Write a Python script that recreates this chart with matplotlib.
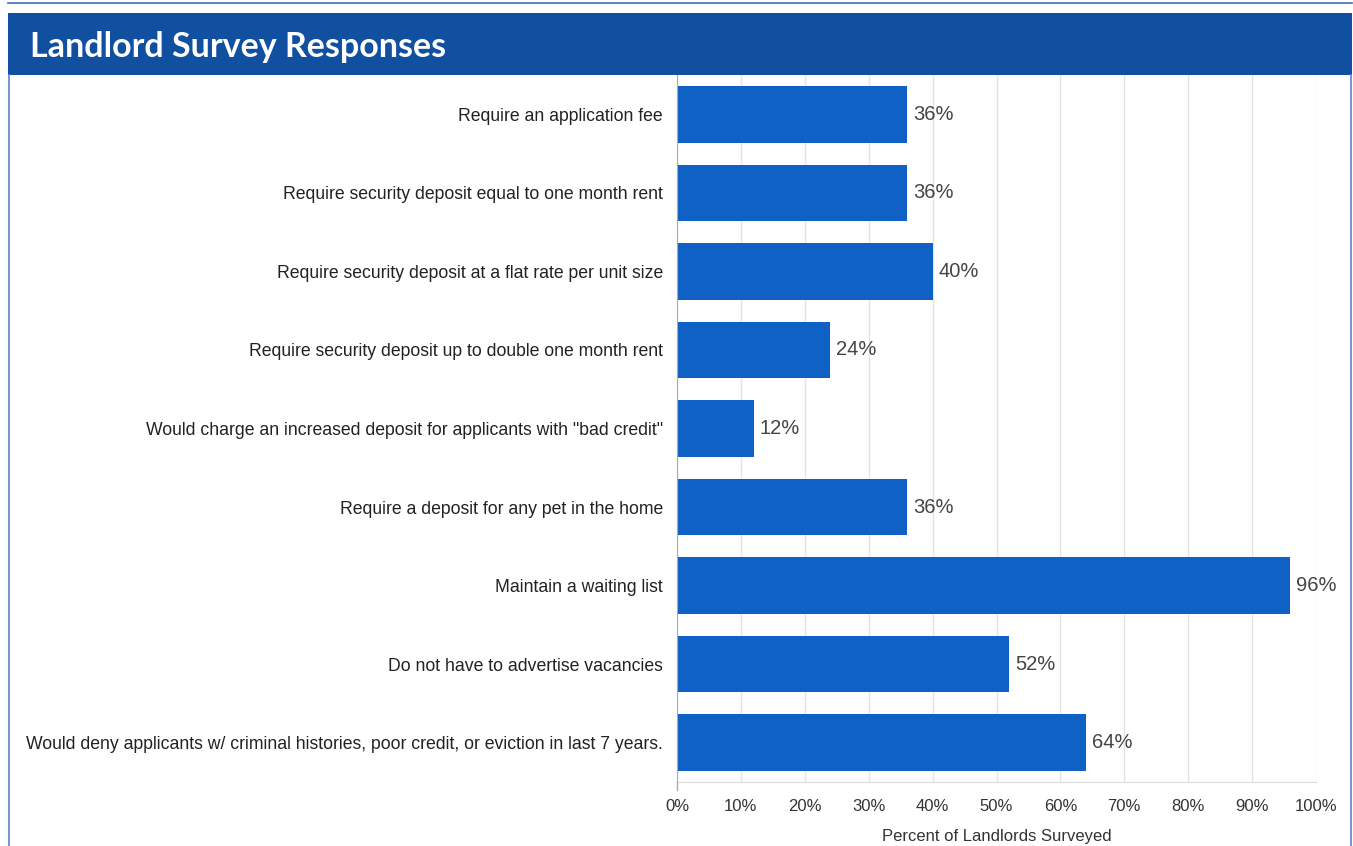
import matplotlib.pyplot as plt
from matplotlib.patches import Rectangle
from matplotlib.lines import Line2D

# Survey answers, top to bottom
questions = [
    "Require an application fee",
    "Require security deposit equal to one month rent",
    "Require security deposit at a flat rate per unit size",
    "Require security deposit up to double one month rent",
    'Would charge an increased deposit for applicants with "bad credit"',
    "Require a deposit for any pet in the home",
    "Maintain a waiting list",
    "Do not have to advertise vacancies",
    "Would deny applicants w/ criminal histories, poor credit, or eviction in last 7 years.",
]
percents = [36, 36, 40, 24, 12, 36, 96, 52, 64]
x_ticks = [0, 10, 20, 30, 40, 50, 60, 70, 80, 90, 100]

W, H = 1353, 846
header_blue = "#114fa0"
bar_blue = "#1061c6"

plt.rcParams["font.family"] = ["Liberation Sans", "DejaVu Sans"]

fig = plt.figure(figsize=(W / 100, H / 100), dpi=100)
fig.patch.set_facecolor("white")

# page frame: thin rule on top, title band, side borders
fig.add_artist(Line2D([8 / W, 1352 / W], [1 - 3 / H, 1 - 3 / H], color="#3f6fb0", lw=1.2))
fig.add_artist(Rectangle((8 / W, 1 - 75 / H), 1344 / W, 62 / H,
                         facecolor=header_blue, edgecolor="none"))
fig.add_artist(Line2D([8.5 / W, 8.5 / W], [0, 1 - 75 / H], color="#5b84c0", lw=1.2))
fig.add_artist(Line2D([1350.5 / W, 1350.5 / W], [0, 1 - 75 / H], color="#5b84c0", lw=1.2))
fig.text(30 / W, 1 - 47 / H, "Landlord Survey Responses", color="white",
         fontsize=24.5, fontweight="bold", family=["Lato", "DejaVu Sans"],
         va="center", ha="left")

ax = fig.add_axes([677 / W, 1 - 782 / H, (1316 - 677) / W, (782 - 75) / H])
ypos = list(range(len(questions)))
ax.barh(ypos, percents, height=0.72, color=bar_blue, zorder=3)

for y, v in zip(ypos, percents):
    ax.text(v + 0.9, y, f"{v}%", va="center", ha="left",
            fontsize=14.5, color="#444444", zorder=4)

ax.set_xlim(0, 100)
ax.set_ylim(len(questions) - 0.5, -0.5)
ax.set_yticks(ypos)
ax.set_yticklabels(questions, fontsize=12.7, color="#222222")
ax.set_xticks(x_ticks)
ax.set_xticklabels([f"{t}%" for t in x_ticks], fontsize=12, color="#333333")
ax.tick_params(axis="both", length=0)
ax.tick_params(axis="y", pad=10)
ax.tick_params(axis="x", pad=12)
ax.set_xlabel("Percent of Landlords Surveyed", fontsize=12, color="#333333", labelpad=11)

ax.grid(axis="x", color="#e4e4e4", lw=1, zorder=0)
for side in ["top", "right"]:
    ax.spines[side].set_visible(False)
ax.spines["bottom"].set_color("#dddddd")
ax.spines["left"].set_color("#aaaaaa")
ax.spines["left"].set_zorder(4)
# small tick below the zero line
ax.axvline(0, ymin=-0.012, ymax=0, color="#aaaaaa", lw=1, clip_on=False)

fig.savefig("out.png", dpi=100)
